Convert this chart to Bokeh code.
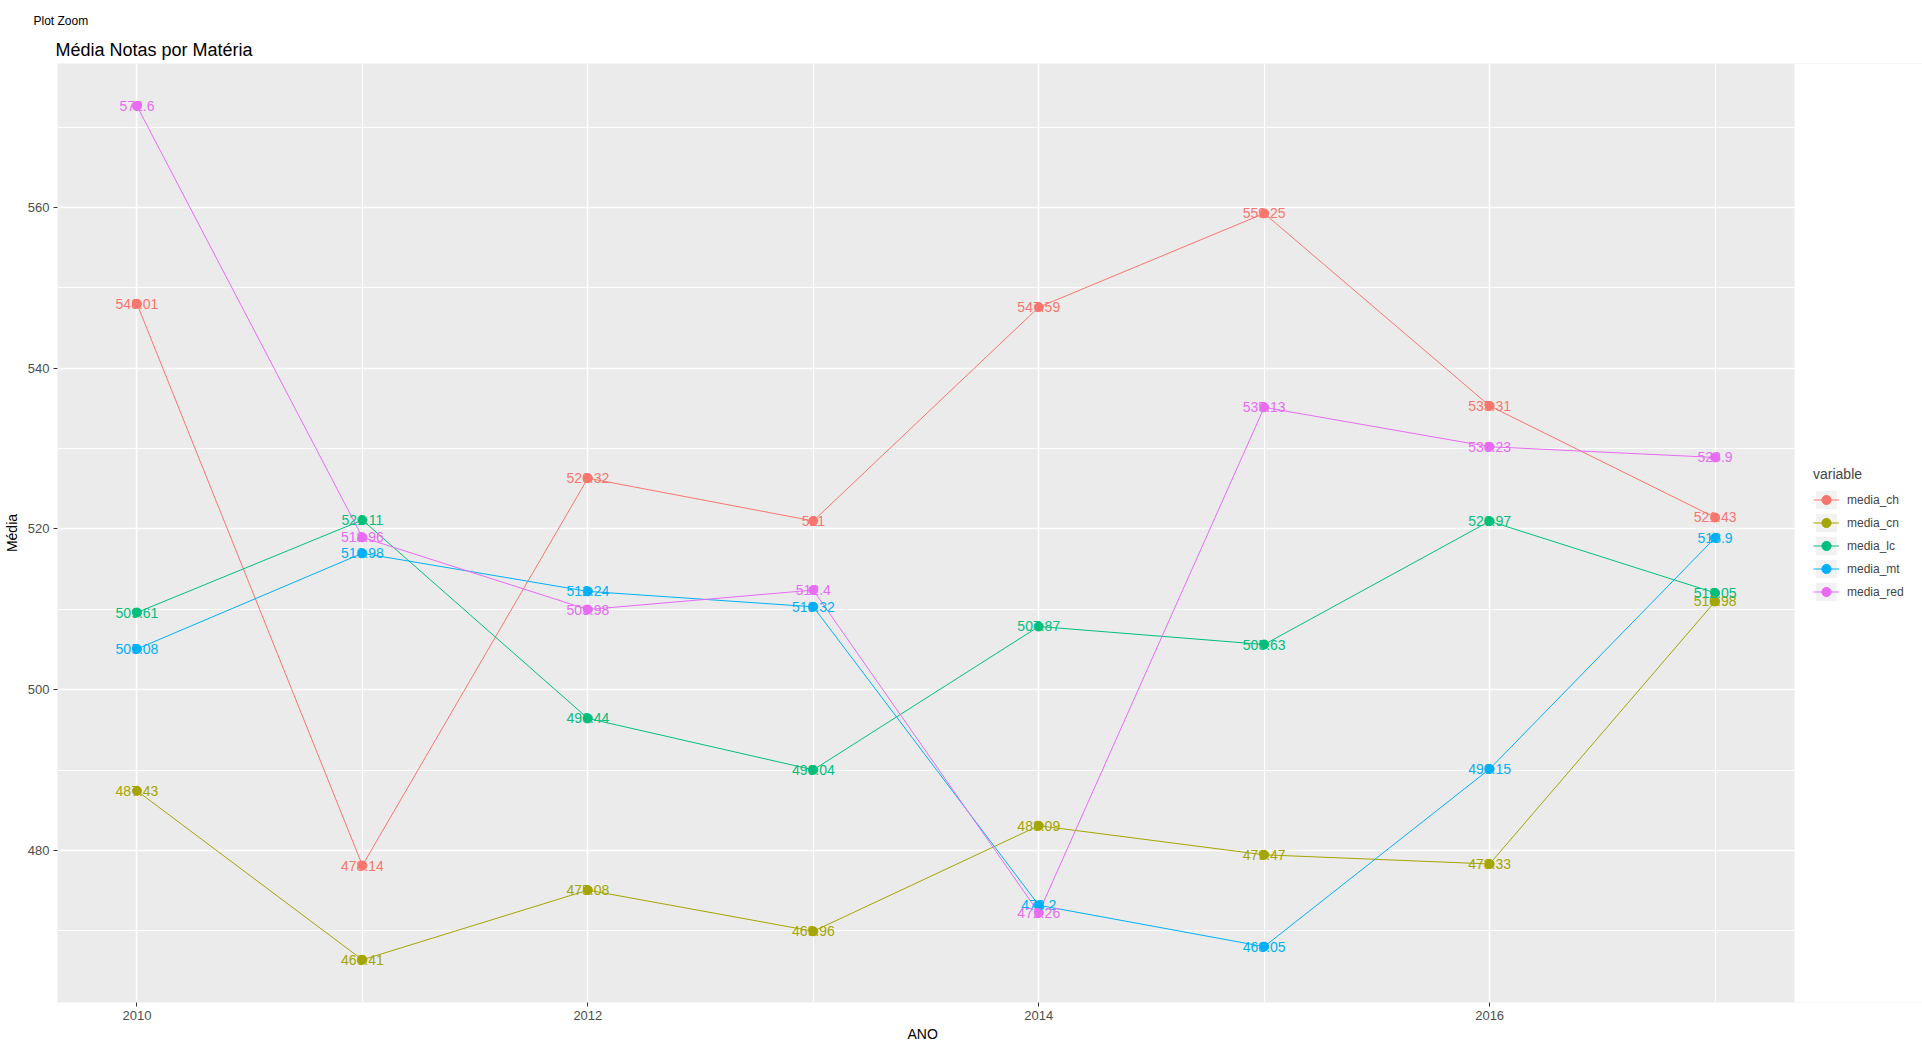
from bokeh.plotting import figure
from bokeh.models import (ColumnDataSource, Legend, LegendItem, FixedTicker,
                          Title, Range1d, BoxAnnotation)
from bokeh.core.properties import value
from bokeh.embed import file_html
from bokeh.resources import INLINE

# ---- data ----
anos = [2010, 2011, 2012, 2013, 2014, 2015, 2016, 2017]
media_ch = [548.01, 478.14, 526.32, 521.00, 547.59, 559.25, 535.31, 521.43]
media_cn = [487.43, 466.41, 475.08, 469.96, 483.09, 479.47, 478.33, 510.98]
media_lc = [509.61, 521.11, 496.44, 490.04, 507.87, 505.63, 520.97, 512.05]
media_mt = [505.08, 516.98, 512.24, 510.32, 473.20, 468.05, 490.15, 518.90]
media_red = [572.60, 518.96, 509.98, 512.40, 472.26, 535.13, 530.23, 528.90]

series_names = ["media_ch", "media_cn", "media_lc", "media_mt", "media_red"]
series_values = [media_ch, media_cn, media_lc, media_mt, media_red]
colors = ["#F8766D", "#A3A500", "#00BF7D", "#00B0F6", "#E76BF3"]

x_major = [2010, 2012, 2014, 2016]
x_minor = [2011, 2013, 2015, 2017]
y_major = [480, 500, 520, 540, 560]
y_minor = [470, 490, 510, 530, 550, 570]

FONT = "Liberation Sans"

# panel spans 2009.65..2017.35; the frame continues to the right edge so the
# legend can sit there on a white cover
X0, X1 = 2009.6475, 2017.3525
X_END = 2017.92

p = figure(width=1922, height=1049, output_backend="svg", toolbar_location=None,
           x_range=Range1d(X0, X_END), y_range=Range1d(461.1, 577.9),
           min_border_left=54, min_border_right=0, min_border_top=63,
           min_border_bottom=47, background_fill_color="#EBEBEB",
           border_fill_color="white", title=None)
p.outline_line_color = None

main_title = Title(text="Média Notas por Matéria", align="left", offset=-2,
                   text_font=FONT, text_font_size="18px",
                   text_font_style="normal", text_color="black", standoff=7)
p.add_layout(main_title, "above")
p.add_layout(Title(text="Plot Zoom", align="left", offset=-24,
                   text_font=FONT, text_font_size="12px",
                   text_font_style="normal", text_color="black", standoff=14),
             "above")

# axes / ticks
p.xaxis.ticker = FixedTicker(ticks=x_major, minor_ticks=x_minor)
p.yaxis.ticker = FixedTicker(ticks=y_major, minor_ticks=y_minor)
for ax in (p.xaxis, p.yaxis):
    ax.axis_line_color = None
    ax.major_tick_line_color = "#333333"
    ax.major_tick_out = 4
    ax.major_tick_in = 0
    ax.minor_tick_line_color = None
    ax.major_label_text_color = "#4D4D4D"
    ax.major_label_text_font = FONT
    ax.major_label_text_font_size = "13px"
    ax.axis_label_text_font = FONT
    ax.axis_label_text_font_size = "14px"
    ax.axis_label_text_font_style = "normal"
    ax.axis_label_text_color = "black"
    ax.major_label_standoff = 4
    ax.axis_label_standoff = 5
p.yaxis.axis_label = "Média"

# x-axis title centred under the grey panel (not under the whole frame)
p.add_layout(Title(text="ANO", align="left", offset=850, text_font=FONT,
                   text_font_size="14px", text_font_style="normal",
                   text_color="black", standoff=2), "below")

for g in (p.xgrid, p.ygrid):
    g.grid_line_color = "white"
    g.grid_line_width = 1.5
    g.minor_grid_line_color = "white"
    g.minor_grid_line_width = 1

items = []
line_rs, pt_rs = [], []
for name, vals, col in zip(series_names, series_values, colors):
    src = ColumnDataSource(dict(x=anos, y=vals,
                                lab=[f"{v:g}" for v in vals]))
    lr = p.line("x", "y", source=src, line_color=col, line_width=1)
    line_rs.append((src, lr))

for (src, lr), col in zip(line_rs, colors):
    pr = p.scatter("x", "y", source=src, size=9, fill_color=col,
                   line_color=col, marker="circle")
    pt_rs.append(pr)

for (src, lr), col in zip(line_rs, colors):
    p.text("x", "y", text="lab", source=src, text_color=col,
           text_align="center", text_baseline="middle",
           text_font=value(FONT), text_font_size="14px")

# legend key backgrounds (placed outside the visible range)
for (src, lr), pr, name in zip(line_rs, pt_rs, series_names):
    bg = p.rect(x=[2000], y=[470], width=0.1, height=0.1,
                fill_color="#F2F2F2", line_color=None)
    items.append(LegendItem(label=name, renderers=[bg, lr, pr]))

# white cover right of the panel (legend area)
p.add_layout(BoxAnnotation(left=X1, fill_color="white", fill_alpha=1.0,
                           line_color=None, level="annotation"))

legend = Legend(items=items, location=(1756, 399), title="variable",
                title_text_font=FONT, title_text_font_size="14px",
                title_text_font_style="normal", title_standoff=6,
                label_text_font=FONT, label_text_font_size="12px",
                glyph_width=26, glyph_height=23, spacing=0,
                padding=8, margin=0, label_standoff=8,
                border_line_color=None, background_fill_color="white")
p.add_layout(legend, "center")

open("out.html", "w").write(file_html(p, INLINE))
